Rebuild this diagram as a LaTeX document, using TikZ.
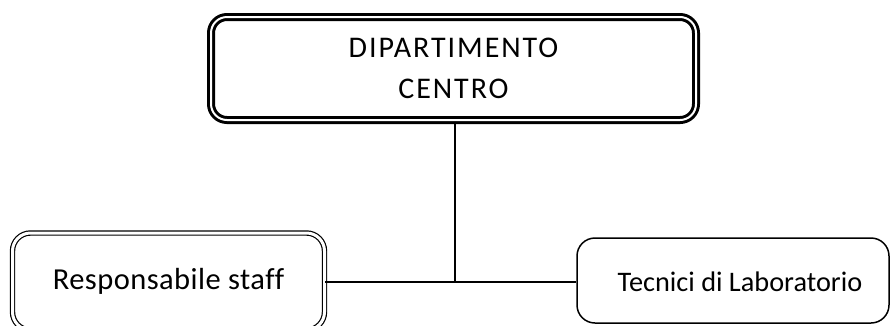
\documentclass[tikz,border=0pt]{standalone}
\usepackage{fontspec}
\setmainfont{Carlito}
\newfontfamily\topfont[LetterSpace=6.5]{Carlito}
\newfontfamily\leftfont[LetterSpace=1.5,Ligatures=NoCommon]{Carlito}
\begin{document}
\begin{tikzpicture}[x=1pt,y=-1pt,
  topbox/.style={draw, rounded corners=16pt, line width=3pt, double, double distance=2pt, minimum width=485pt, minimum height=103pt, inner sep=0pt, align=center, font=\topfont\fontsize{30}{41}\selectfont},
  leftbox/.style={draw, rounded corners=18pt, line width=1.2pt, double, double distance=3pt, minimum width=312pt, minimum height=97pt, inner sep=0pt, font=\leftfont\fontsize{30.5}{36}\selectfont},
  rightbox/.style={draw, rounded corners=18pt, line width=1.5pt, minimum width=312pt, minimum height=85pt, inner sep=0pt},
  labeltext/.style={inner sep=0pt, font=\fontsize{28.3}{34}\selectfont},
  conn/.style={line width=1.8pt}]
\useasboundingbox (0,0) rectangle (890,325);
\node[topbox] (top) at (453.5,68.5) {DIPARTIMENTO\\CENTRO};
\node[leftbox] (lb) at (168.5,281.5) {Responsabile staff};
\node[rightbox] (rb) at (733,280.5) {};
\node[labeltext] (rbt) at (740,282) {Tecnici di Laboratorio};
\coordinate (j) at (455,282);
\draw[conn] (top.south -| j) -- (j);
\draw[conn] (lb.east |- j) -- (rb.west |- j);
\end{tikzpicture}
\end{document}
